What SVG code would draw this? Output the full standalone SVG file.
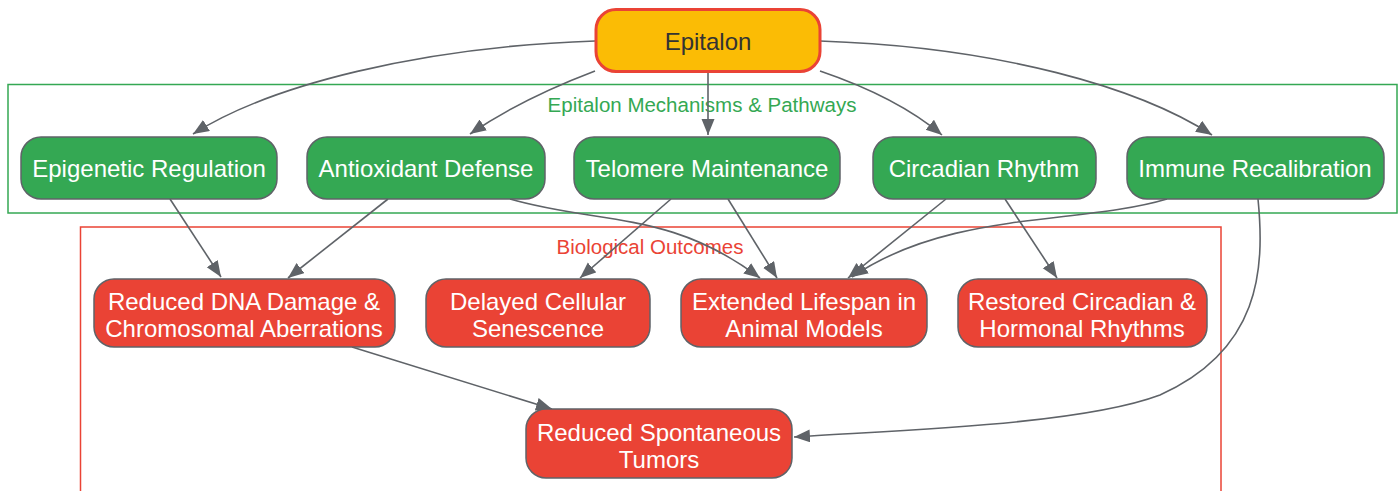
<svg xmlns="http://www.w3.org/2000/svg" width="1400" height="491" viewBox="0 0 1400 491">
<style>
.cl{fill:none;stroke-width:1.5}
.cll{font-family:"Liberation Sans",Arial,sans-serif;font-size:20.5px;text-anchor:middle}
.e{fill:none;stroke:#5f6368;stroke-width:1.6;marker-end:url(#ah)}
.n{stroke:#5f6368;stroke-width:1.5}
.g{fill:#34A853}
.r{fill:#EA4335}
.t{font-family:"Liberation Sans",Arial,sans-serif;font-size:24px;fill:#ffffff;text-anchor:middle}
</style>
<defs>
<marker id="ah" markerUnits="userSpaceOnUse" markerWidth="18" markerHeight="14" refX="16" refY="6.5" orient="auto">
<path d="M0,0 L16,6.5 L0,13 z" fill="#5f6368"/>
</marker>
</defs>
<g id="cluster-mechanisms">
<rect x="8" y="84.5" width="1389" height="128.5" class="cl" stroke="#34A853"/>
<text x="702" y="112" class="cll" fill="#34A853">Epitalon Mechanisms &amp; Pathways</text>
</g>
<g id="cluster-outcomes">
<rect x="80.5" y="227" width="1140.5" height="266" class="cl" stroke="#EA4335"/>
<text x="650" y="254" class="cll" fill="#EA4335">Biological Outcomes</text>
</g>
<g id="connectors">
<path class="e" d="M595,41 C420,47 270,85 193,134"/>
<path class="e" d="M595,71 C545,90 505,110 470,134"/>
<path class="e" d="M708,72 L708,135"/>
<path class="e" d="M820,71 C870,88 910,108 942,135"/>
<path class="e" d="M820,41 C1000,47 1140,88 1212,135"/>
<path class="e" d="M170,199 L221,277"/>
<path class="e" d="M388,199 L288,278"/>
<path class="e" d="M510,199 C600,225 670,210 760,278"/>
<path class="e" d="M671,199 L580,278"/>
<path class="e" d="M728,199 L777,278"/>
<path class="e" d="M946,199 L848,278"/>
<path class="e" d="M1167,199 C1080,225 950,210 852,277"/>
<path class="e" d="M1005,199 L1057,278"/>
<path class="e" d="M1258,199 C1265,270 1260,350 1160,395 C1080,425 900,430 794,437"/>
<path class="e" d="M352,347 L552,409"/>
</g>
<g id="epitalon">
<rect x="596" y="9.5" width="224" height="62" rx="20" fill="#FBBC05" stroke="#EA4335" stroke-width="3"/>
<text x="708" y="50" class="t" style="fill:#333333">Epitalon</text>
</g>
<g id="epigenetic-regulation">
<rect x="21" y="137" width="256" height="62" rx="20" class="n g"/>
<text x="149" y="177" class="t">Epigenetic Regulation</text>
</g>
<g id="antioxidant-defense">
<rect x="307" y="137" width="238" height="62" rx="20" class="n g"/>
<text x="426" y="177" class="t">Antioxidant Defense</text>
</g>
<g id="telomere-maintenance">
<rect x="574" y="137" width="266" height="62" rx="20" class="n g"/>
<text x="707" y="177" class="t">Telomere Maintenance</text>
</g>
<g id="circadian-rhythm">
<rect x="873" y="137" width="223" height="62" rx="20" class="n g"/>
<text x="984" y="177" class="t">Circadian Rhythm</text>
</g>
<g id="immune-recalibration">
<rect x="1127" y="137" width="257" height="62" rx="20" class="n g"/>
<text x="1255" y="177" class="t">Immune Recalibration</text>
</g>
<g id="reduced-dna-damage">
<rect x="94" y="279" width="301" height="68" rx="20" class="n r"/>
<text x="244" y="309.5" class="t">Reduced DNA Damage &amp;</text>
<text x="244" y="336.5" class="t">Chromosomal Aberrations</text>
</g>
<g id="delayed-senescence">
<rect x="426" y="279" width="224" height="68" rx="20" class="n r"/>
<text x="538" y="309.5" class="t">Delayed Cellular</text>
<text x="538" y="336.5" class="t">Senescence</text>
</g>
<g id="extended-lifespan">
<rect x="681" y="279" width="246" height="68" rx="20" class="n r"/>
<text x="804" y="309.5" class="t">Extended Lifespan in</text>
<text x="804" y="336.5" class="t">Animal Models</text>
</g>
<g id="restored-rhythms">
<rect x="958" y="279" width="249" height="68" rx="20" class="n r"/>
<text x="1082" y="309.5" class="t">Restored Circadian &amp;</text>
<text x="1082" y="336.5" class="t">Hormonal Rhythms</text>
</g>
<g id="reduced-tumors">
<rect x="526" y="409" width="266" height="69" rx="20" class="n r"/>
<text x="659" y="440.5" class="t">Reduced Spontaneous</text>
<text x="659" y="467.5" class="t">Tumors</text>
</g>
</svg>
